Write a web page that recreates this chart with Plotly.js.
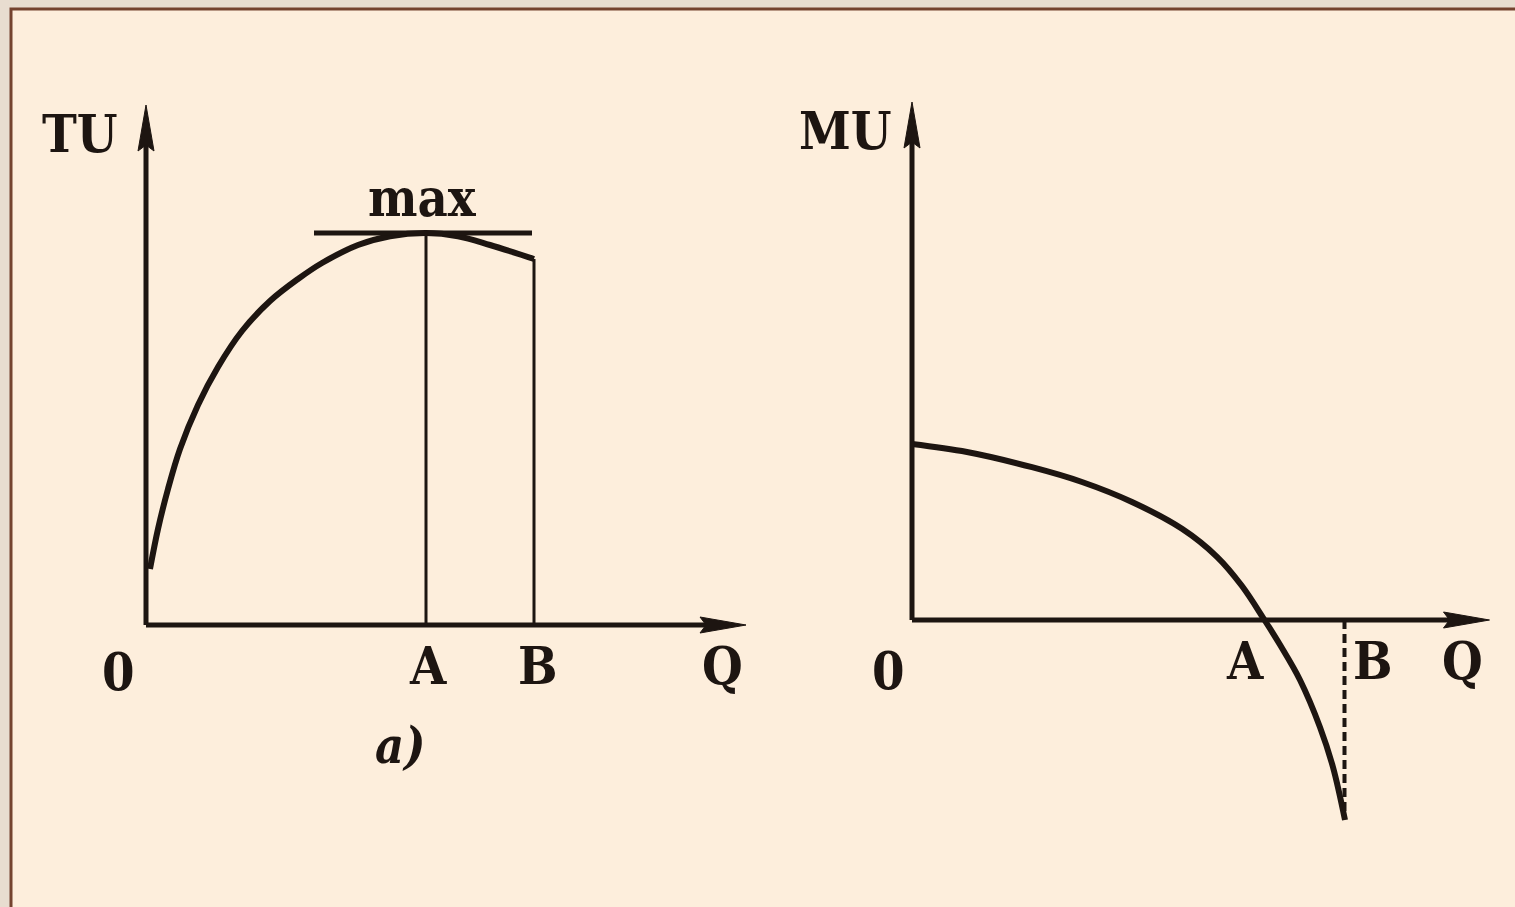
<!DOCTYPE html>
<html>
<head>
<meta charset="utf-8">
<script src="https://cdn.plot.ly/plotly-3.0.1.min.js"></script>
<style>
  html, body { margin: 0; padding: 0; background: #e8ddd0; }
  #chart { width: 1515px; height: 907px; }
</style>
</head>
<body>
<div id="chart"></div>
<script>
// Total utility (left panel): quantity Q and TU along the curve
const tuQ = [0.1, 0.3, 0.55, 0.85, 1.3, 1.8, 2.4, 3.1, 3.8, 4.4, 5.3, 6.1, 7.0, 7.8, 8.6, 9.7];
const tuVal = [1.4, 2.4, 3.4, 4.4, 5.5, 6.45, 7.35, 8.1, 8.65, 9.05, 9.5, 9.72, 9.8, 9.72, 9.5, 9.15];

// Marginal utility (right panel)
const muQ = [0, 1.1, 2.4, 3.4, 4.4, 5.4, 6.1, 6.6, 7.05, 7.36, 7.76, 8.16, 8.42, 8.66];
const muVal = [4.4, 4.2, 3.82, 3.45, 2.95, 2.28, 1.58, 0.85, 0, -0.62, -1.5, -2.68, -3.68, -5.0];

// Key quantities on each Q axis
const tuPointA = 7.0, tuPointB = 9.7, tuMax = 9.8;
const tuTangentFrom = 4.2, tuTangentTo = 9.65;
const muPointA = 7.05, muPointB = 8.65, muDashEnd = -4.85;

// Axis extents (arrow tips) for each panel
const tuAxisQ = 15.0, tuAxisY = 13.0;
const muAxisQ = 11.55, muAxisY = 12.95;

// Axis letters
const axisLabelsTU = { origin: '0', a: 'A', b: 'B', q: 'Q', y: 'TU', max: 'max', caption: 'a)' };
const axisLabelsMU = { origin: '0', a: 'A', b: 'B', q: 'Q', y: 'MU' };

const W = 1515, H = 907;
const INK = '#1d1511';
const FONT = 'DejaVu Serif Condensed, DejaVu Serif, serif';

// Pixel frame for each panel: origin position and pixels per unit
const left = { ox: 146, oy: 625, kx: 40, ky: 40, d0: 0, d1: 0.5 };
const right = { ox: 912, oy: 620, kx: 50, ky: 40, d0: 0.5, d1: 1 };

function xRange(p) {
  return [(p.d0 * W - p.ox) / p.kx, (p.d1 * W - p.ox) / p.kx];
}
function yRange(p) {
  return [(p.oy - H) / p.ky, p.oy / p.ky];
}

function hidden(extra) {
  return Object.assign({
    visible: false, showgrid: false, zeroline: false, fixedrange: true
  }, extra);
}

const traces = [
  {
    x: tuQ, y: tuVal, xaxis: 'x', yaxis: 'y', type: 'scatter', mode: 'lines',
    line: { color: INK, width: 6, shape: 'spline', smoothing: 1 },
    hoverinfo: 'skip', showlegend: false
  },
  {
    x: muQ, y: muVal, xaxis: 'x2', yaxis: 'y2', type: 'scatter', mode: 'lines',
    line: { color: INK, width: 6, shape: 'spline', smoothing: 1 },
    hoverinfo: 'skip', showlegend: false
  }
];

function seg(xr, yr, x0, y0, x1, y1, width, dash) {
  return {
    type: 'line', xref: xr, yref: yr, x0: x0, y0: y0, x1: x1, y1: y1,
    line: { color: INK, width: width, dash: dash || 'solid' }, layer: 'above'
  };
}
// Slender filled arrowhead; dir 'up' or 'right', tip at (x, y) in data units
function head(xr, yr, x, y, dir) {
  const path = dir === 'up'
    ? 'M0,0 L-8,-46 L0,-40 L8,-46 Z'
    : 'M0,0 L-46,-8 L-40,0 L-46,8 Z';
  return {
    type: 'path', xref: xr, yref: yr, xsizemode: 'pixel', ysizemode: 'pixel',
    xanchor: x, yanchor: y, path: path,
    fillcolor: INK, line: { color: INK, width: 1 }, layer: 'above'
  };
}

const shapes = [
  // page frame
  {
    type: 'rect', xref: 'paper', yref: 'paper',
    x0: 11 / W, x1: 1.02, y0: -0.02, y1: 1 - 9 / H,
    fillcolor: '#fdeedc', line: { color: '#74432f', width: 3 }, layer: 'below'
  },
  // left panel axes
  seg('x', 'y', 0, 0, 0, tuAxisY - 0.9, 5),
  seg('x', 'y', 0, 0, tuAxisQ - 0.9, 0, 5),
  head('x', 'y', 0, tuAxisY, 'up'),
  head('x', 'y', tuAxisQ, 0, 'right'),
  // tangent at the maximum and the drop lines at A and B
  seg('x', 'y', tuTangentFrom, tuMax, tuTangentTo, tuMax, 5),
  seg('x', 'y', tuPointA, 0, tuPointA, tuMax, 3),
  seg('x', 'y', tuPointB, 0, tuPointB, tuVal[tuVal.length - 1], 3),
  // right panel axes
  seg('x2', 'y2', 0, 0, 0, muAxisY - 0.9, 5),
  seg('x2', 'y2', 0, 0, muAxisQ - 0.7, 0, 5),
  head('x2', 'y2', 0, muAxisY, 'up'),
  head('x2', 'y2', muAxisQ, 0, 'right'),
  // dashed line down from B
  seg('x2', 'y2', muPointB, 0, muPointB, muDashEnd, 4, '9px,5px')
];

function label(xr, yr, x, y, text, size, italic) {
  return {
    xref: xr, yref: yr, x: x, y: y, text: text, showarrow: false,
    xanchor: 'center', yanchor: 'middle',
    font: {
      family: FONT, size: size, color: INK, weight: 'bold',
      style: italic ? 'italic' : 'normal'
    }
  };
}

const annotations = [
  label('x', 'y', -0.7, -1.15, axisLabelsTU.origin, 52),
  label('x', 'y', tuPointA + 0.05, -1.0, axisLabelsTU.a, 52),
  label('x', 'y', tuPointB + 0.1, -1.0, axisLabelsTU.b, 52),
  label('x', 'y', 14.4, -1.0, axisLabelsTU.q, 52),
  label('x', 'y', -1.65, 12.3, axisLabelsTU.y, 52),
  label('x', 'y', 6.9, 10.7, axisLabelsTU.max, 52),
  label('x', 'y', 6.35, -3.0, axisLabelsTU.caption, 50, true),
  label('x2', 'y2', -0.48, -1.25, axisLabelsMU.origin, 52),
  label('x2', 'y2', muPointA - 0.39, -1.0, axisLabelsMU.a, 52),
  label('x2', 'y2', muPointB + 0.57, -1.0, axisLabelsMU.b, 52),
  label('x2', 'y2', 11.0, -1.0, axisLabelsMU.q, 52),
  label('x2', 'y2', -1.34, 12.25, axisLabelsMU.y, 52)
];

const layout = {
  width: W, height: H,
  margin: { l: 0, r: 0, t: 0, b: 0 },
  paper_bgcolor: '#e8ddd0',
  plot_bgcolor: 'rgba(0,0,0,0)',
  showlegend: false,
  xaxis: hidden({ domain: [left.d0, left.d1], range: xRange(left), anchor: 'y' }),
  yaxis: hidden({ domain: [0, 1], range: yRange(left), anchor: 'x' }),
  xaxis2: hidden({ domain: [right.d0, right.d1], range: xRange(right), anchor: 'y2' }),
  yaxis2: hidden({ domain: [0, 1], range: yRange(right), anchor: 'x2' }),
  shapes: shapes,
  annotations: annotations
};

Plotly.newPlot('chart', traces, layout, { displayModeBar: false, staticPlot: true });
</script>
</body>
</html>
